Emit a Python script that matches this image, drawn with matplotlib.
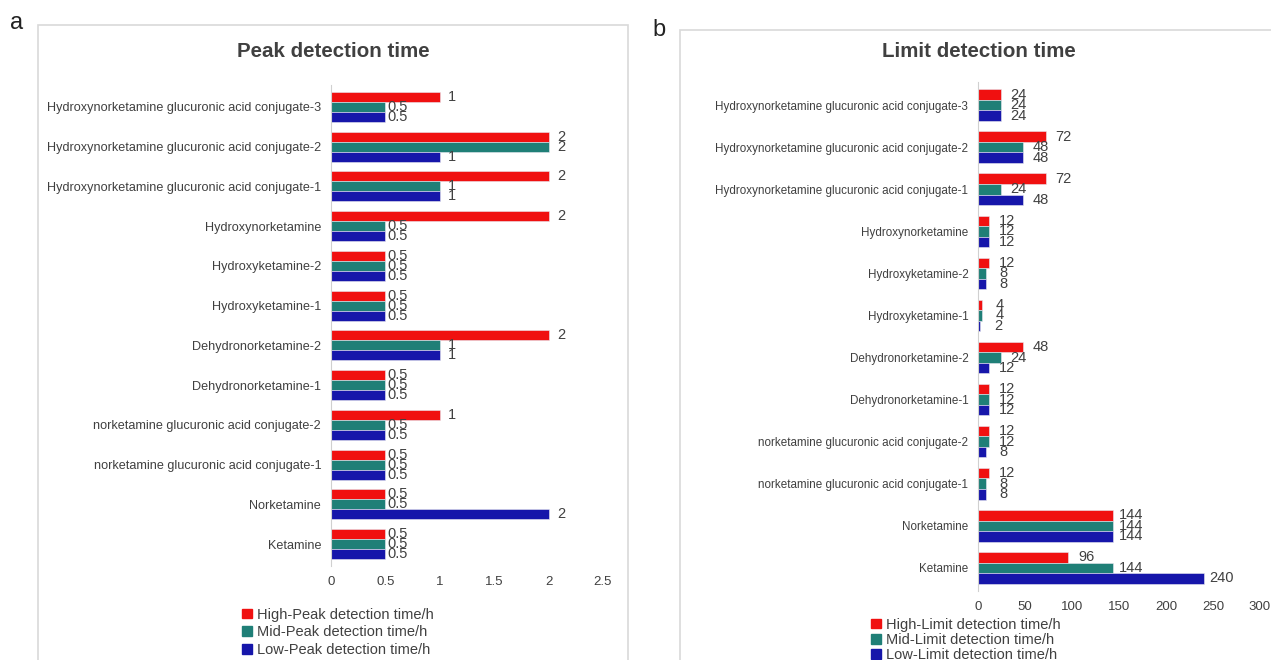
import matplotlib.pyplot as plt
from matplotlib.patches import Rectangle, Patch

plt.rcParams['font.family'] = ['Liberation Sans', 'DejaVu Sans']

# Compounds listed from bottom to top of each chart
compounds = [
    "Ketamine",
    "Norketamine",
    "norketamine glucuronic acid conjugate-1",
    "norketamine glucuronic acid conjugate-2",
    "Dehydronorketamine-1",
    "Dehydronorketamine-2",
    "Hydroxyketamine-1",
    "Hydroxyketamine-2",
    "Hydroxynorketamine",
    "Hydroxynorketamine glucuronic acid conjugate-1",
    "Hydroxynorketamine glucuronic acid conjugate-2",
    "Hydroxynorketamine glucuronic acid conjugate-3",
]

# Peak detection time (h)
peak_high = [0.5, 0.5, 0.5, 1, 0.5, 2, 0.5, 0.5, 2, 2, 2, 1]
peak_mid = [0.5, 0.5, 0.5, 0.5, 0.5, 1, 0.5, 0.5, 0.5, 1, 2, 0.5]
peak_low = [0.5, 2, 0.5, 0.5, 0.5, 1, 0.5, 0.5, 0.5, 1, 1, 0.5]

# Limit detection time (h)
limit_high = [96, 144, 12, 12, 12, 48, 4, 12, 12, 72, 72, 24]
limit_mid = [144, 144, 8, 12, 12, 24, 4, 8, 12, 24, 48, 24]
limit_low = [240, 144, 8, 8, 12, 12, 2, 8, 12, 48, 48, 24]

peak_ticks = [0, 0.5, 1, 1.5, 2, 2.5]
limit_ticks = [0, 50, 100, 150, 200, 250, 300]

RED = '#F01010'
TEAL = '#1F7F77'
BLUE = '#1616AA'
TXT = '#404040'

fig = plt.figure(figsize=(12.71, 6.6), dpi=100)

# panel frames
fig.patches.append(Rectangle((0.030, -0.01), 0.464, 0.972, transform=fig.transFigure,
                             fill=False, edgecolor='#D9D9D9', lw=1.2))
fig.patches.append(Rectangle((0.535, -0.01), 0.47, 0.965, transform=fig.transFigure,
                             fill=False, edgecolor='#D9D9D9', lw=1.2))
fig.text(0.008, 0.965, 'a', fontsize=17, color='#222222', va='center')
fig.text(0.513, 0.955, 'b', fontsize=17, color='#222222', va='center')


def draw(ax, high, mid, low, ticks, xmax, lab_size, off, title, title_x, series_names,
         leg_xy, leg_space):
    y = list(range(len(compounds)))
    h = 0.25
    for vals, dy, col in [(high, h, RED), (mid, 0, TEAL), (low, -h, BLUE)]:
        pos = [v + dy for v in y]
        ax.barh(pos, vals, height=h, color=col, edgecolor='#E8E8F0', linewidth=0.4)
        for p, v in zip(pos, vals):
            ax.annotate(f'{v:g}', (v, p), xytext=(off, 0), textcoords='offset points',
                        ha='center', va='center', fontsize=10.5, color=TXT)
    ax.set_xlim(0, xmax)
    ax.set_ylim(-0.55, len(compounds) - 0.45)
    ax.set_xticks(ticks)
    ax.set_xticklabels([f'{t:g}' for t in ticks], fontsize=9.5, color=TXT)
    ax.set_yticks(y)
    ax.set_yticklabels(compounds, fontsize=lab_size, color=TXT)
    ax.tick_params(length=0, axis='y', pad=7)
    ax.tick_params(length=0, axis='x', pad=7)
    for s in ['top', 'right', 'bottom']:
        ax.spines[s].set_visible(False)
    ax.spines['left'].set_color('#D0D0D0')
    fig.text(title_x, 0.922, title, fontsize=14.8, fontweight='bold', color=TXT,
             ha='center', va='center')
    handles = [Patch(color=c, label=n) for c, n in zip([RED, TEAL, BLUE], series_names)]
    fig.legend(handles=handles, loc='upper left', bbox_to_anchor=leg_xy, frameon=False,
               fontsize=10.5, handlelength=0.65, handleheight=0.65, handletextpad=0.35,
               labelspacing=leg_space, labelcolor=TXT, borderaxespad=0)


ax1 = fig.add_axes([0.2604, 0.1424, 0.2140, 0.7288])
draw(ax1, peak_high, peak_mid, peak_low, peak_ticks, 2.5, 9.1, 9,
     'Peak detection time', 0.262,
     ['High-Peak detection time/h', 'Mid-Peak detection time/h', 'Low-Peak detection time/h'],
     (0.186, 0.088), 0.25)

ax2 = fig.add_axes([0.7695, 0.1045, 0.2218, 0.7713])
draw(ax2, limit_high, limit_mid, limit_low, limit_ticks, 300, 8.4, 13,
     'Limit detection time', 0.77,
     ['High-Limit detection time/h', 'Mid-Limit detection time/h', 'Low-Limit detection time/h'],
     (0.681, 0.073), 0.08)

fig.savefig('out.png', dpi=100)
